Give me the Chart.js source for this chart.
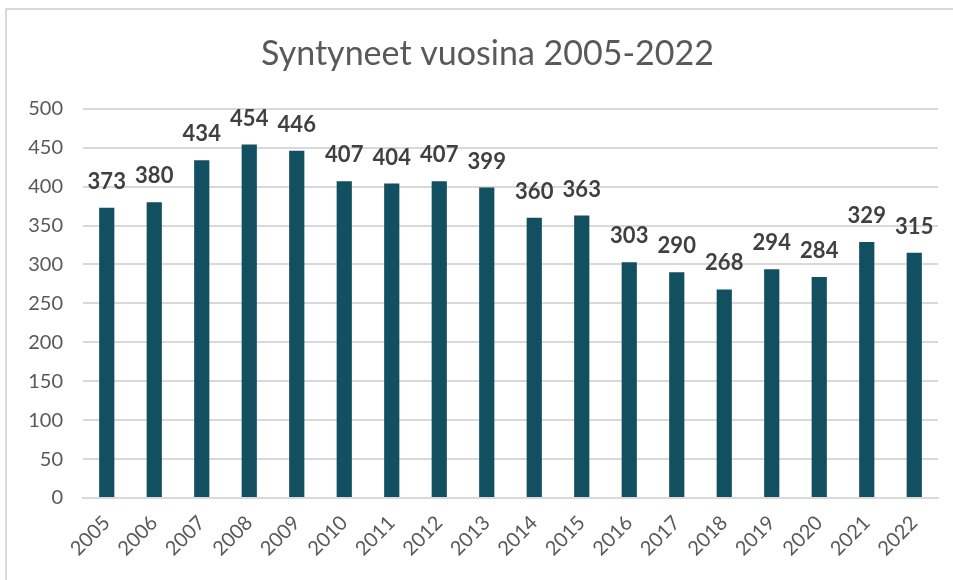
<!DOCTYPE html>
<html>
<head>
<meta charset="utf-8">
<script src="https://cdn.jsdelivr.net/npm/chart.js@4"></script>
<style>
    body { margin: 0; background: #fff; }
    .wrap { position: relative; width: 953px; height: 580px; overflow: hidden; }
    .frame { position: absolute; left: 5px; top: 8px; width: 1000px; height: 700px;
             border-left: 2px solid #d9d9d9; border-top: 2px solid #d9d9d9; }
    canvas { position: absolute; left: 0; top: 0; }
</style>
</head>
<body>
<div class="wrap">
    <div class="frame"></div>
    <canvas id="mine" width="975" height="580"></canvas>
</div>
<script>
    const vuodet = ["2005", "2006", "2007", "2008", "2009", "2010", "2011", "2012", "2013",
        "2014", "2015", "2016", "2017", "2018", "2019", "2020", "2021", "2022"];
    const syntyneet = [373, 380, 434, 454, 446, 407, 404, 407, 399,
        360, 363, 303, 290, 268, 294, 284, 329, 315];

    // numerot pylväiden päälle
    const arvot = {
        id: "arvot",
        afterDatasetsDraw(chart) {
            let ctx = chart.ctx;
            ctx.save();
            ctx.font = "bold 22px Lato";
            ctx.fillStyle = "#404040";
            ctx.textAlign = "center";
            ctx.textBaseline = "bottom";
            chart.getDatasetMeta(0).data.forEach((bar, i) => {
                ctx.fillText(syntyneet[i], bar.x, bar.y - 15);
            });
            ctx.restore();
        }
    };

    var ctx = document.getElementById("mine").getContext("2d");
    var myChart = new Chart(ctx, {
        type: "bar",
        data: {
            labels: vuodet,
            datasets: [{
                data: syntyneet,
                backgroundColor: "#124f60",
                barPercentage: 0.64,
                categoryPercentage: 0.5
            }]
        },
        options: {
            responsive: false,
            animation: { duration: 0 },
            layout: { padding: { top: 20, right: 0, bottom: 0, left: 0 } },
            plugins: {
                legend: { display: false },
                tooltip: { enabled: false },
                title: {
                    display: true,
                    text: "Syntyneet vuosina 2005-2022",
                    color: "#595959",
                    font: { family: "Lato", size: 34, weight: "normal" },
                    padding: { top: 14, bottom: 34 }
                }
            },
            scales: {
                x: {
                    grid: { display: false },
                    border: { color: "#d9d9d9", width: 2 },
                    ticks: {
                        color: "#595959",
                        font: { family: "Lato", size: 20 },
                        maxRotation: 45,
                        minRotation: 45,
                        padding: 5
                    },
                    afterFit: s => { s.height = 82; }
                },
                y: {
                    min: 0,
                    max: 500,
                    grid: { color: "#d9d9d9", lineWidth: 2, drawTicks: false },
                    border: { display: false },
                    ticks: {
                        stepSize: 50,
                        color: "#595959",
                        font: { family: "Lato", size: 20 },
                        padding: 20
                    },
                    afterFit: s => { s.width = 83; }
                },
                // tyhjä akseli oikealle, jotta otsikko osuu kohdalleen
                tyhja: {
                    type: "linear",
                    position: "right",
                    grid: { display: false },
                    border: { display: false },
                    ticks: { display: false },
                    afterFit: s => { s.width = 37; }
                }
            }
        },
        plugins: [arvot]
    });
</script>
</body>
</html>
